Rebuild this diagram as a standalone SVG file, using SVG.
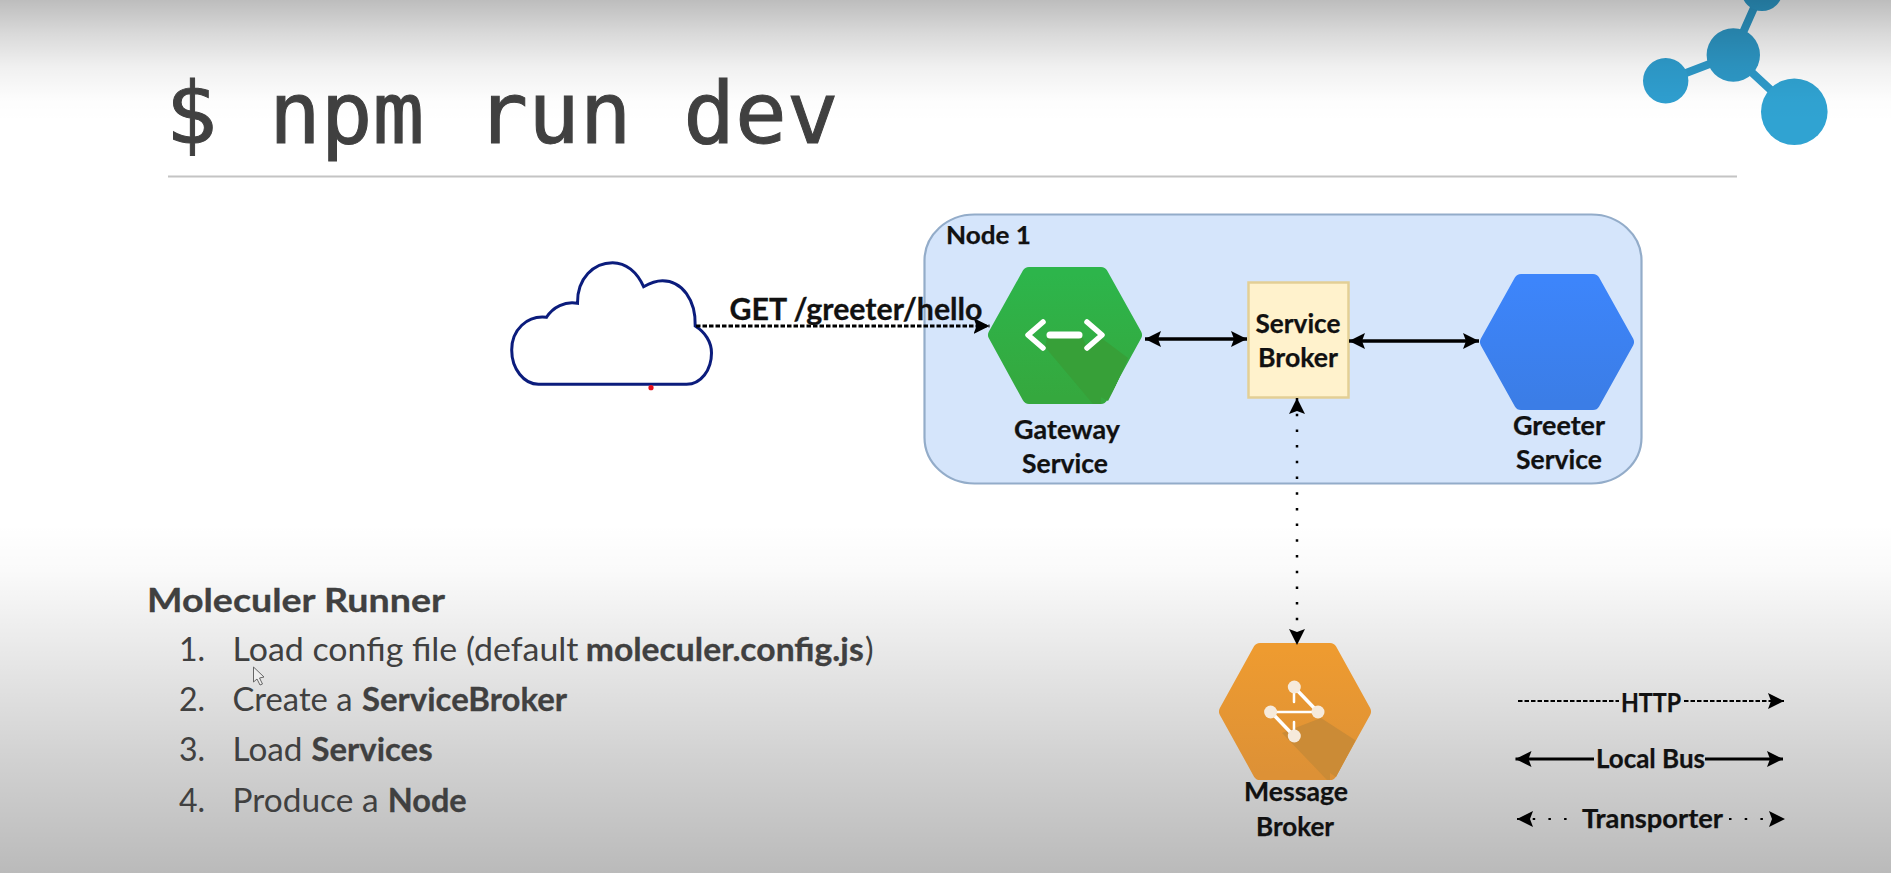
<svg xmlns="http://www.w3.org/2000/svg" width="1891" height="873" viewBox="0 0 1891 873">
<style>
text{font-family:Lato,"Liberation Sans",sans-serif;fill:#111}
.title{font-family:"DejaVu Sans Mono","Liberation Mono",monospace;font-size:86px;fill:#404040;stroke:#404040;stroke-width:1}
.lbl{font-size:26px;font-weight:700;text-anchor:middle;stroke:#111;stroke-width:.25}
.leg{font-size:26px;font-weight:700;stroke:#111;stroke-width:.25}
.li{font-size:32px;fill:#404040}
.b{font-weight:700;stroke:#404040;stroke-width:.3}
.hex{stroke-width:14;stroke-linejoin:round}
.ic{fill:none;stroke:#fff;stroke-linecap:round;stroke-linejoin:round}
.arr{fill:none;stroke:#000;stroke-width:3.5}
.dash{stroke-width:3;stroke-dasharray:4.5 2}
.dot{stroke-width:2.5;stroke-dasharray:2.5 13.2}
.thin{stroke-width:2.2}
.mid{stroke-width:2.8}
</style>
<defs>
<linearGradient id="shade" x1="0" y1="0" x2="0" y2="1">
<stop offset="0" stop-color="#000" stop-opacity=".26"/>
<stop offset=".038" stop-color="#000" stop-opacity=".15"/>
<stop offset=".076" stop-color="#000" stop-opacity=".06"/>
<stop offset=".115" stop-color="#000" stop-opacity=".01"/>
<stop offset=".14" stop-color="#000" stop-opacity="0"/>
<stop offset=".6" stop-color="#000" stop-opacity="0"/>
<stop offset=".653" stop-color="#000" stop-opacity=".02"/>
<stop offset=".87" stop-color="#000" stop-opacity=".18"/>
<stop offset="1" stop-color="#000" stop-opacity=".27"/>
</linearGradient>
<linearGradient id="gGreen" x1="0" y1="0" x2="0" y2="1"><stop offset="0" stop-color="#2db54b"/><stop offset="1" stop-color="#35a83e"/></linearGradient>
<linearGradient id="gBlue" x1="0" y1="0" x2="0" y2="1"><stop offset="0" stop-color="#3d85fb"/><stop offset="1" stop-color="#3b7de6"/></linearGradient>
<linearGradient id="gOrange" x1="0" y1="0" x2="0" y2="1"><stop offset="0" stop-color="#ee9b30"/><stop offset="1" stop-color="#dd9136"/></linearGradient>
<clipPath id="cGreen"><polygon points="995,335 1029,274 1101,274 1135,335 1101,397 1029,397"/><rect x="1029" y="390" width="72" height="14"/><polygon points="1135,335 1142,335 1108,401 1101,397"/></clipPath>
<clipPath id="cOrange"><polygon points="1226,711.5 1260,650 1330,650 1364,711.5 1330,773 1260,773"/><rect x="1260" y="766" width="70" height="14"/><polygon points="1364,711.5 1371,711.5 1336,777 1330,773"/></clipPath>
<marker id="head" markerUnits="userSpaceOnUse" markerWidth="18" markerHeight="18" refX="16" refY="8" orient="auto-start-reverse">
<path d="M0,0 L16,8 L0,16 L3,8Z" fill="#000"/>
</marker>
</defs>
<rect width="1891" height="873" fill="#fff"/>
<g id="logo" fill="#2f9fd0" stroke="none">
<path d="M1761,-8L1733,55L1665.7,80.7M1733,55L1794.3,111.7" fill="none" stroke="#2e9bcb" stroke-width="8"/>
<circle cx="1762" cy="-9.7" r="20.7"/>
<circle cx="1733.3" cy="55" r="26.7" fill="#2e9ac9"/>
<circle cx="1665.7" cy="80.7" r="22.7"/>
<circle cx="1794.3" cy="111.7" r="33.3" fill="#30a3d2"/>
</g>
<rect width="1891" height="873" fill="url(#shade)"/>
<g id="header">
<text class="title" x="165.5" y="143">$ npm run dev</text>
<rect x="168" y="175.5" width="1569" height="2" fill="#c4c4c4"/>
</g>
<g id="node-1">
<rect x="924.5" y="214.5" width="717" height="269" rx="50" ry="46" fill="#d5e5fb" stroke="#93acc9" stroke-width="2.2"/>
<text x="946" y="243.5" font-size="25" font-weight="700" stroke="#111" stroke-width=".25" textLength="85" lengthAdjust="spacingAndGlyphs">Node 1</text>
</g>
<g id="cloud">
<path d="M538.5,384.3L686.6,384.3C701,384.3 711.5,370 711.5,353C711.5,342 705,332 695.2,326C696,300 682,280.7 662.5,280.7C656,280.7 650,283 643.6,286.7C637,272 626,262.7 612.6,262.7C594,262.7 577,278 577.5,303.3C565,301 553,307 546.5,317.3C527,315 511.7,330 511.7,350C511.7,369 524,384.3 538.5,384.3Z" fill="#fff" stroke="#0b1c7c" stroke-width="3"/>
<circle cx="651" cy="387.7" r="2.6" fill="#e8101c"/>
</g>
<g id="gateway-service">
<polygon class="hex" points="995,335 1029,274 1101,274 1135,335 1101,397 1029,397" fill="url(#gGreen)" stroke="url(#gGreen)"/>
<polygon clip-path="url(#cGreen)" points="1045,347 1093,404 1108,404 1128,358 1100,337 1088,350 1083,338 1047,338" fill="#37a038"/>
<path class="ic" d="M1043,322L1028,335L1043,348M1087,322L1102,335L1087,348" stroke-width="5.5"/>
<path class="ic" d="M1050,335H1079" stroke-width="7"/>
<text class="lbl" x="1067" y="438.5" textLength="106" lengthAdjust="spacingAndGlyphs">Gateway</text>
<text class="lbl" x="1065" y="472.5" textLength="86" lengthAdjust="spacingAndGlyphs">Service</text>
</g>
<g id="service-broker">
<rect x="1248.5" y="282.5" width="100" height="115" fill="#fff2cc" stroke="#e3cf95" stroke-width="2.5"/>
<text class="lbl" x="1298" y="332.5" textLength="85" lengthAdjust="spacingAndGlyphs">Service</text>
<text class="lbl" x="1298" y="366.5" textLength="80" lengthAdjust="spacingAndGlyphs">Broker</text>
</g>
<g id="greeter-service">
<polygon class="hex" points="1487,342 1521,281 1593,281 1627,342 1593,403 1521,403" fill="url(#gBlue)" stroke="url(#gBlue)"/>
<text class="lbl" x="1559" y="434.5" textLength="92" lengthAdjust="spacingAndGlyphs">Greeter</text>
<text class="lbl" x="1559" y="468.5" textLength="86" lengthAdjust="spacingAndGlyphs">Service</text>
</g>
<g id="message-broker">
<polygon class="hex" points="1226,711.5 1260,650 1330,650 1364,711.5 1330,773 1260,773" fill="url(#gOrange)" stroke="url(#gOrange)"/>
<polygon clip-path="url(#cOrange)" points="1282,733 1327,780 1337,780 1358,742 1321,718" fill="#cb8b36"/>
<g>
<path class="ic" d="M1294,687L1318,712" stroke-width="3.5"/>
<path class="ic" d="M1318,712H1271" stroke-width="2.5"/>
<path class="ic" d="M1271,712L1294,736" stroke-width="3.5"/>
<path class="ic" d="M1294,687V702M1294,736V722" stroke-width="2.5"/>
<g fill="#f6eadb"><circle cx="1294.3" cy="687" r="6.5"/><circle cx="1270.6" cy="712" r="6.5"/><circle cx="1318" cy="712" r="6.5"/><circle cx="1294.3" cy="736" r="6.5"/></g>
</g>
<text class="lbl" x="1296" y="800.5" textLength="104" lengthAdjust="spacingAndGlyphs">Message</text>
<text class="lbl" x="1295" y="835.5" textLength="78" lengthAdjust="spacingAndGlyphs">Broker</text>
</g>
<g id="connectors">
<path class="arr dash" d="M696,326H989.5" marker-end="url(#head)"/>
<path class="arr" d="M1145,339H1247" marker-start="url(#head)" marker-end="url(#head)"/>
<path class="arr" d="M1349,341H1479" marker-start="url(#head)" marker-end="url(#head)"/>
<path class="arr dot" d="M1297,398V645" marker-start="url(#head)" marker-end="url(#head)"/>
<text x="729.5" y="319.5" font-size="30" font-weight="700" stroke="#111" stroke-width=".3" textLength="253" lengthAdjust="spacingAndGlyphs">GET /greeter/hello</text>
</g>
<g id="legend">
<path class="arr dash thin" d="M1518,701H1619"/>
<path class="arr dash thin" d="M1684,701H1784" marker-end="url(#head)"/>
<text class="leg" x="1621" y="711.5" textLength="60" lengthAdjust="spacingAndGlyphs">HTTP</text>
<path class="arr mid" d="M1515.5,759H1594" marker-start="url(#head)"/>
<path class="arr mid" d="M1705,759H1783" marker-end="url(#head)"/>
<text class="leg" x="1596" y="767.5" textLength="109" lengthAdjust="spacingAndGlyphs">Local Bus</text>
<path class="arr dot thin" d="M1517,819H1578" marker-start="url(#head)"/>
<path class="arr dot thin" d="M1729,819H1785" marker-end="url(#head)"/>
<text class="leg" x="1582" y="827.5" textLength="141" lengthAdjust="spacingAndGlyphs">Transporter</text>
</g>
<g id="runner-notes">
<text x="147" y="612.2" font-size="33" font-weight="700" stroke="#404040" stroke-width=".3" style="fill:#404040" textLength="298" lengthAdjust="spacingAndGlyphs">Moleculer Runner</text>
<text class="li" x="179" y="661.4">1.</text>
<text class="li" x="232.5" y="661.4" textLength="346" lengthAdjust="spacingAndGlyphs">Load config file (default</text>
<text class="li b" x="585.7" y="661.4" textLength="278" lengthAdjust="spacingAndGlyphs">moleculer.config.js</text>
<text class="li" x="865" y="661.4">)</text>
<text class="li" x="179" y="710.7">2.</text>
<text class="li" x="232.5" y="710.7" textLength="120" lengthAdjust="spacingAndGlyphs">Create a</text>
<text class="li b" x="362" y="710.7" textLength="205" lengthAdjust="spacingAndGlyphs">ServiceBroker</text>
<text class="li" x="179" y="761.4">3.</text>
<text class="li" x="232.5" y="761.4" textLength="70" lengthAdjust="spacingAndGlyphs">Load</text>
<text class="li b" x="311.6" y="761.4" textLength="121" lengthAdjust="spacingAndGlyphs">Services</text>
<text class="li" x="179" y="812.4">4.</text>
<text class="li" x="232.5" y="812.4" textLength="146" lengthAdjust="spacingAndGlyphs">Produce a</text>
<text class="li b" x="387.7" y="812.4" textLength="79" lengthAdjust="spacingAndGlyphs">Node</text>
<path d="M253.5,667V682L257,679L260,685L262.5,684L259.5,678L264,677Z" fill="#eee" stroke="#666" stroke-width="1"/>
</g>
</svg>
